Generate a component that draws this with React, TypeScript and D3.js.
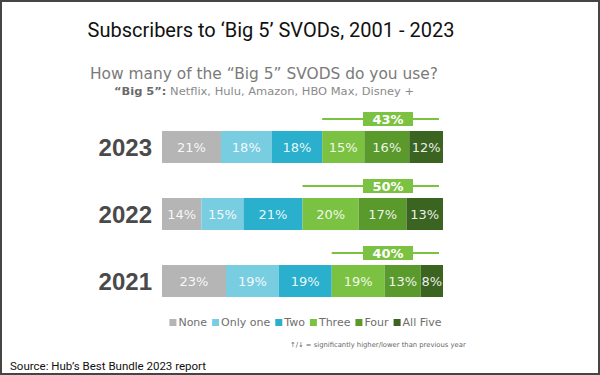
import React, { useEffect, useRef } from "react";
import * as d3 from "d3";

const years = ["2023", "2022", "2021"];
const categories = ["None", "Only one", "Two", "Three", "Four", "All Five"];
const values2023 = [21, 18, 18, 15, 16, 12];
const values2022 = [14, 15, 21, 20, 17, 13];
const values2021 = [23, 19, 19, 19, 13, 8];
const callouts = [43, 50, 40];
const colors = ["#b5b5b5", "#79cde1", "#2aafcc", "#7cc242", "#5a992c", "#3a6420"];

const titleText = "Subscribers to \u2018Big 5\u2019 SVODs, 2001 - 2023";
const subtitleText = "How many of the \u201CBig 5\u201D SVODS do you use?";
const noteBold = "\u201CBig 5\u201D:";
const noteRest = " Netflix, Hulu, Amazon, HBO Max, Disney +";
const footnote = "\u2191/\u2193 = significantly higher/lower than previous year";
const sourceText = "Source: Hub\u2019s Best Bundle 2023 report";

export default function App() {
  const ref = useRef<SVGSVGElement>(null);

  useEffect(() => {
    const svg = d3.select(ref.current);
    svg.selectAll("*").remove();
    const W = 600, H = 375;
    const font = "'DejaVu Sans', sans-serif";

    svg.append("rect").attr("x", 0).attr("y", 0).attr("width", W).attr("height", H).attr("fill", "#fff");
    svg.append("rect").attr("x", 1).attr("y", 1).attr("width", W - 2).attr("height", H - 2)
      .attr("fill", "none").attr("stroke", "#454545").attr("stroke-width", 2);

    svg.append("text").attr("x", 271).attr("y", 37).attr("text-anchor", "middle")
      .attr("font-family", "Roboto, sans-serif").attr("font-size", 20).attr("fill", "#111")
      .text(titleText);

    svg.append("text").attr("x", 264).attr("y", 79).attr("text-anchor", "middle")
      .attr("font-family", font).attr("font-size", 15).attr("fill", "#7a7a7a")
      .attr("textLength", 348).attr("lengthAdjust", "spacingAndGlyphs")
      .text(subtitleText);

    const note = svg.append("text").attr("x", 264).attr("y", 95).attr("text-anchor", "middle")
      .attr("font-family", font).attr("font-size", 10.5).attr("fill", "#8a8a8a")
      .attr("textLength", 300).attr("lengthAdjust", "spacingAndGlyphs");
    note.append("tspan").attr("font-weight", "bold").attr("fill", "#6a6a6a").text(noteBold);
    note.append("tspan").text(noteRest);

    const rows = [values2023, values2022, values2021];
    const y = d3.scalePoint<string>().domain(years).range([147, 281]);
    const barH = 32;
    const x0 = 162, x1 = 443;

    rows.forEach((vals, i) => {
      const total = d3.sum(vals);
      const x = d3.scaleLinear().domain([0, total]).range([x0, x1]);
      const cy = y(years[i])!;
      const top = cy - barH / 2;
      const cum = d3.cumsum(vals);
      const g = svg.append("g");
      vals.forEach((v, j) => {
        const start = j === 0 ? 0 : cum[j - 1];
        g.append("rect").attr("x", x(start)).attr("y", top)
          .attr("width", x(start + v) - x(start)).attr("height", barH).attr("fill", colors[j]);
        g.append("text").attr("x", (x(start) + x(start + v)) / 2).attr("y", cy + 5)
          .attr("text-anchor", "middle").attr("font-family", font).attr("font-size", 13)
          .attr("fill", "#fff").attr("fill-opacity", 0.92).text(`${v}%`);
      });
      svg.append("text").attr("x", 152).attr("y", cy + 9).attr("text-anchor", "end")
        .attr("font-family", "'Liberation Sans', Arial, sans-serif").attr("font-weight", "bold")
        .attr("font-size", 24).attr("fill", "#4a4a4a").text(years[i]);

      // callout bracket
      const threeStart = x(cum[2]);
      const ly = top - 12;
      svg.append("line").attr("x1", threeStart).attr("x2", x1 - 4).attr("y1", ly).attr("y2", ly)
        .attr("stroke", "#7cc242").attr("stroke-width", 2);
      svg.append("rect").attr("x", 363).attr("y", top - 19).attr("width", 50).attr("height", 14)
        .attr("fill", "#7cc242");
      svg.append("text").attr("x", 388).attr("y", top - 7).attr("text-anchor", "middle")
        .attr("font-family", font).attr("font-weight", "bold").attr("font-size", 13)
        .attr("fill", "#fff").text(`${callouts[i]}%`);
    });

    // legend
    const lg = svg.append("g");
    let cx = 0;
    categories.forEach((c, j) => {
      const it = lg.append("g").attr("transform", `translate(${cx},0)`);
      it.append("rect").attr("x", 0).attr("y", -7).attr("width", 7).attr("height", 7).attr("fill", colors[j]);
      const t = it.append("text").attr("x", 9).attr("y", 0).attr("font-family", font)
        .attr("font-size", 11).attr("fill", "#6e6e6e").text(c);
      const w = (t.node() as SVGTextElement).getComputedTextLength();
      cx += 9 + w + 5;
    });
    const totalW = cx - 5;
    lg.attr("transform", `translate(${305.5 - totalW / 2},326)`);

    svg.append("text").attr("x", 290).attr("y", 347).attr("font-family", font)
      .attr("font-size", 6.8).attr("fill", "#666").text(footnote);

    svg.append("text").attr("x", 10).attr("y", 370).attr("font-family", "Roboto, sans-serif")
      .attr("font-size", 11.5).attr("fill", "#111").text(sourceText);
  }, []);

  return (
    <svg ref={ref} width={600} height={375}
      style={{ position: "absolute", left: 0, top: 0, display: "block" }} />
  );
}
